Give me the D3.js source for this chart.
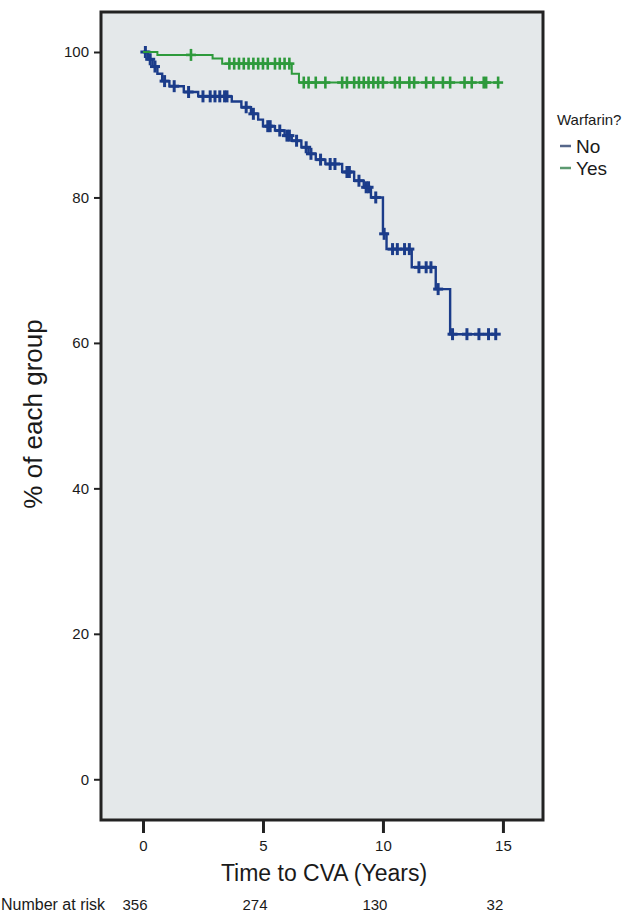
<!DOCTYPE html>
<html>
<head>
<meta charset="utf-8">
<script src="https://cdn.jsdelivr.net/npm/d3@7"></script>
<style>
  body { margin: 0; background: #fff; }
  svg text { font-family: "Liberation Sans", Arial, sans-serif; fill: #1a1a1a; }
</style>
</head>
<body>
<div id="chart"></div>
<script>
// Kaplan-Meier: Warfarin? No / Yes
const noTimes = [0, 0.2, 0.4, 0.6, 0.8, 1.1, 1.7, 2.3, 3.7, 4.1, 4.5, 4.8, 5.0, 5.5, 5.9, 6.2, 6.6, 6.9, 7.2, 7.6, 8.3, 8.8, 9.2, 9.5, 10.0, 10.15, 11.2, 12.2, 12.8];
const noSurv  = [100, 99.0, 98.0, 97.0, 96.0, 95.3, 94.5, 93.9, 93.2, 92.4, 91.5, 90.7, 89.8, 89.2, 88.5, 87.8, 86.9, 86.0, 85.2, 84.6, 83.5, 82.3, 81.4, 80.0, 75.0, 72.9, 70.4, 67.4, 61.2];
const noCensor = [0.1, 0.3, 0.5, 0.9, 1.3, 1.9, 2.5, 2.8, 3.0, 3.2, 3.4, 3.5, 4.3, 4.6, 5.2, 5.3, 5.7, 6.0, 6.1, 6.4, 6.8, 7.0, 7.4, 7.8, 8.0, 8.5, 8.6, 9.0, 9.3, 9.4, 9.7, 10.05, 10.4, 10.6, 10.9, 11.1, 11.5, 11.8, 12.0, 12.3, 12.9, 13.5, 14.0, 14.4, 14.7];

const yesTimes = [0, 0.6, 2.9, 3.3, 6.2, 6.5];
const yesSurv  = [100, 99.6, 99.1, 98.4, 97.0, 95.8];
const yesCensor = [2.0, 3.6, 3.8, 4.0, 4.2, 4.4, 4.6, 4.8, 5.0, 5.2, 5.5, 5.7, 5.9, 6.1, 6.7, 6.9, 7.2, 7.6, 8.3, 8.5, 8.8, 9.0, 9.2, 9.4, 9.6, 9.8, 10.0, 10.5, 10.7, 11.1, 11.3, 11.8, 12.1, 12.5, 12.8, 13.4, 13.7, 14.2, 14.3, 14.8];

const xTicks = [0, 5, 10, 15];
const yTicks = [0, 20, 40, 60, 80, 100];
const atRisk = [356, 274, 130, 32];

const groups = [
  { name: 'No',  times: noTimes,  surv: noSurv,  censor: noCensor,  color: '#1b3c8a', legend: '#56678a', width: 2.4, mark: 3 },
  { name: 'Yes', times: yesTimes, surv: yesSurv, censor: yesCensor, color: '#2e9a3c', legend: '#5c9a70', width: 2, mark: 2.6 }
];

const width = 641, height = 914;
const frame = { left: 101, top: 12, right: 543, bottom: 820 };

const svg = d3.select('#chart').append('svg')
  .attr('width', width).attr('height', height);

const x = d3.scaleLinear().domain([-1.75, 16.67]).range([frame.left, frame.right]);
const y = d3.scaleLinear().domain([-5.6, 105.5]).range([frame.bottom, frame.top]);

// plot area
svg.append('rect')
  .attr('x', frame.left).attr('y', frame.top)
  .attr('width', frame.right - frame.left).attr('height', frame.bottom - frame.top)
  .style('fill', '#e4e8ea');

// curves
groups.forEach(gr => {
  const lastT = Math.max(d3.max(gr.censor), d3.max(gr.times));
  const pts = gr.times.map((t, i) => [t, gr.surv[i]]);
  pts.push([lastT, gr.surv[gr.surv.length - 1]]);

  const line = d3.line()
    .x(d => x(d[0])).y(d => y(d[1]))
    .curve(d3.curveStepAfter);

  svg.append('path')
    .datum(pts)
    .attr('d', line)
    .style('fill', 'none')
    .style('stroke', gr.color)
    .style('stroke-width', gr.width);

  // censor marks on the step curve
  const survAt = t => gr.surv[d3.bisectRight(gr.times, t) - 1];
  const marks = svg.append('g').attr('class', 'censor-' + gr.name);
  gr.censor.forEach(t => {
    const cx = x(t), cy = y(survAt(t));
    marks.append('line')
      .attr('x1', cx).attr('x2', cx).attr('y1', cy - 6).attr('y2', cy + 6)
      .style('stroke', gr.color).style('stroke-width', gr.mark);
    marks.append('line')
      .attr('x1', cx - 5).attr('x2', cx + 5).attr('y1', cy).attr('y2', cy)
      .style('stroke', gr.color).style('stroke-width', gr.mark);
  });
});

// frame
svg.append('rect')
  .attr('x', frame.left).attr('y', frame.top)
  .attr('width', frame.right - frame.left).attr('height', frame.bottom - frame.top)
  .style('fill', 'none').style('stroke', '#222').style('stroke-width', 3);

// y axis
const yAxis = svg.append('g')
  .attr('transform', `translate(${frame.left - 1},0)`)
  .call(d3.axisLeft(y).tickValues(yTicks).tickSize(6).tickPadding(5));
yAxis.select('.domain').remove();
yAxis.selectAll('.tick line').style('stroke', '#222').style('stroke-width', 2);
yAxis.selectAll('.tick text').style('font-size', '15px').style('font-family', '"Liberation Sans", Arial, sans-serif');

// x axis
const xAxis = svg.append('g')
  .attr('transform', `translate(0,${frame.bottom + 1})`)
  .call(d3.axisBottom(x).tickValues(xTicks).tickSize(12).tickPadding(7));
xAxis.select('.domain').remove();
xAxis.selectAll('.tick line').style('stroke', '#222').style('stroke-width', 3);
xAxis.selectAll('.tick text').style('font-size', '15px').style('font-family', '"Liberation Sans", Arial, sans-serif');

// titles
svg.append('text')
  .attr('x', 324).attr('y', 881)
  .style('font-size', '23px').style('text-anchor', 'middle')
  .text('Time to CVA (Years)');

svg.append('text')
  .attr('transform', 'translate(42,414) rotate(-90)')
  .style('font-size', '26px').style('text-anchor', 'middle')
  .text('% of each group');

// number at risk
svg.append('text')
  .attr('x', 1).attr('y', 910)
  .style('font-size', '16px')
  .text('Number at risk');
svg.append('g').selectAll('text')
  .data(atRisk)
  .join('text')
  .attr('x', (d, i) => x(xTicks[i]) - 8).attr('y', 910)
  .style('font-size', '15px').style('text-anchor', 'middle')
  .text(d => d);

// legend
const legend = svg.append('g');
legend.append('text')
  .attr('x', 557).attr('y', 125)
  .style('font-size', '15px')
  .text('Warfarin?');
groups.forEach((gr, i) => {
  const ly = 146 + i * 22;
  legend.append('line')
    .attr('x1', 560).attr('x2', 571).attr('y1', ly).attr('y2', ly)
    .style('stroke', gr.legend).style('stroke-width', 2.5);
  legend.append('text')
    .attr('x', 576).attr('y', ly + 7)
    .style('font-size', '19px')
    .text(gr.name);
});
</script>
</body>
</html>
